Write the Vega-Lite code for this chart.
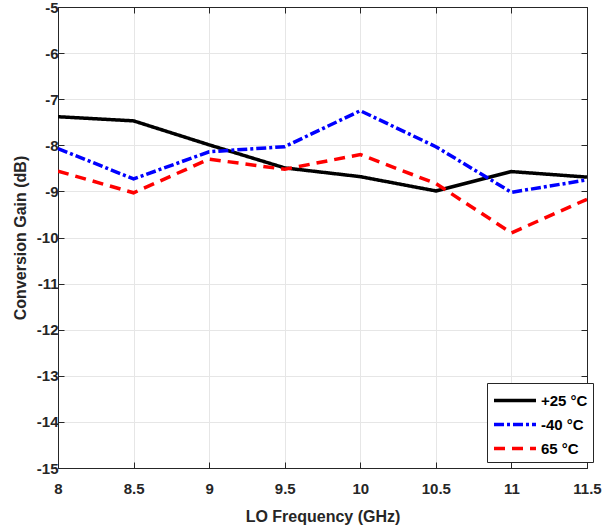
{
  "$schema": "https://vega.github.io/schema/vega-lite/v6.json",
  "autosize": {"type": "none"},
  "width": 529,
  "height": 461,
  "padding": {"left": 58, "top": 7, "right": 25, "bottom": 62},
  "background": "white",
  "config": {
    "font": "Liberation Sans",
    "view": {"stroke": "#262626", "strokeWidth": 1}
  },
  "data": {
    "values": [
      {"f": 8, "g": -7.38, "s": "+25 °C"},
      {"f": 8.5, "g": -7.47, "s": "+25 °C"},
      {"f": 9, "g": -7.99, "s": "+25 °C"},
      {"f": 9.5, "g": -8.49, "s": "+25 °C"},
      {"f": 10, "g": -8.68, "s": "+25 °C"},
      {"f": 10.5, "g": -8.99, "s": "+25 °C"},
      {"f": 11, "g": -8.57, "s": "+25 °C"},
      {"f": 11.5, "g": -8.69, "s": "+25 °C"},
      {"f": 8, "g": -8.07, "s": "-40 °C"},
      {"f": 8.5, "g": -8.73, "s": "-40 °C"},
      {"f": 9, "g": -8.14, "s": "-40 °C"},
      {"f": 9.5, "g": -8.03, "s": "-40 °C"},
      {"f": 10, "g": -7.25, "s": "-40 °C"},
      {"f": 10.5, "g": -8.03, "s": "-40 °C"},
      {"f": 11, "g": -9.02, "s": "-40 °C"},
      {"f": 11.5, "g": -8.75, "s": "-40 °C"},
      {"f": 8, "g": -8.56, "s": "65 °C"},
      {"f": 8.5, "g": -9.03, "s": "65 °C"},
      {"f": 9, "g": -8.3, "s": "65 °C"},
      {"f": 9.5, "g": -8.52, "s": "65 °C"},
      {"f": 10, "g": -8.2, "s": "65 °C"},
      {"f": 10.5, "g": -8.83, "s": "65 °C"},
      {"f": 11, "g": -9.9, "s": "65 °C"},
      {"f": 11.5, "g": -9.17, "s": "65 °C"}
    ]
  },
  "layer": [
    {
      "mark": {"type": "line", "strokeWidth": 3.5, "clip": true},
      "encoding": {
        "x": {
          "field": "f", "type": "quantitative",
          "scale": {"domain": [8, 11.5], "nice": false, "zero": false},
          "axis": {
            "values": [8, 8.5, 9, 9.5, 10, 10.5, 11, 11.5],
            "labelExpr": "toString(datum.value)",
            "title": "LO Frequency (GHz)",
            "titleFont": "Liberation Sans", "titleFontSize": 16, "titleFontWeight": "bold", "titleColor": "#262626", "titlePadding": 12,
            "labelFont": "Liberation Sans", "labelFontSize": 15, "labelFontWeight": "bold", "labelColor": "#262626", "labelPadding": 19,
            "labelFlush": false, "labelOverlap": false,
            "grid": true, "gridColor": "#e6e6e6", "gridWidth": 1,
            "domainColor": "#262626", "tickColor": "#262626", "tickSize": -6, "tickWidth": 1
          }
        },
        "y": {
          "field": "g", "type": "quantitative",
          "scale": {"domain": [-15, -5], "nice": false, "zero": false},
          "axis": {
            "values": [-15, -14, -13, -12, -11, -10, -9, -8, -7, -6, -5],
            "labelExpr": "toString(datum.value)",
            "title": "Conversion Gain (dB)",
            "titleFont": "Liberation Sans", "titleFontSize": 16, "titleFontWeight": "bold", "titleColor": "#262626", "titlePadding": 8,
            "labelFont": "Liberation Sans", "labelFontSize": 15, "labelFontWeight": "bold", "labelColor": "#262626", "labelPadding": 6,
            "labelFlush": false, "labelOverlap": false,
            "grid": true, "gridColor": "#e6e6e6", "gridWidth": 1,
            "domainColor": "#262626", "tickColor": "#262626", "tickSize": -6, "tickWidth": 1
          }
        },
        "color": {
          "field": "s", "type": "nominal",
          "scale": {"domain": ["+25 °C", "-40 °C", "65 °C"], "range": ["#000000", "#0000ff", "#ff0000"]},
          "legend": {
            "title": null, "orient": "none", "legendX": 429, "legendY": 376,
            "strokeColor": "#262626", "fillColor": "white", "padding": 5,
            "symbolType": "M-1,0H3", "symbolSize": 441, "symbolStrokeWidth": 3.5,
            "labelFont": "Liberation Sans", "labelFontSize": 15, "labelFontWeight": "bold", "labelColor": "#000000",
            "rowPadding": 3, "labelOffset": 24, "cornerRadius": 0
          }
        },
        "strokeDash": {
          "field": "s", "type": "nominal",
          "scale": {"domain": ["+25 °C", "-40 °C", "65 °C"], "range": [[1, 0], [10, 3, 3, 3], [11, 7]]},
          "legend": null
        }
      }
    },
    {
      "mark": {"type": "point", "opacity": 0},
      "encoding": {
        "x": {
          "field": "f", "type": "quantitative",
          "scale": {"domain": [8, 11.5], "nice": false, "zero": false},
          "axis": {"orient": "top", "values": [8, 8.5, 9, 9.5, 10, 10.5, 11, 11.5], "labels": false, "title": null, "grid": false, "domainColor": "#262626", "tickColor": "#262626", "tickSize": -6}
        },
        "y": {
          "field": "g", "type": "quantitative",
          "scale": {"domain": [-15, -5], "nice": false, "zero": false},
          "axis": {"orient": "right", "values": [-15, -14, -13, -12, -11, -10, -9, -8, -7, -6, -5], "labels": false, "title": null, "grid": false, "domainColor": "#262626", "tickColor": "#262626", "tickSize": -6}
        }
      }
    }
  ],
  "resolve": {"axis": {"x": "independent", "y": "independent"}}
}
